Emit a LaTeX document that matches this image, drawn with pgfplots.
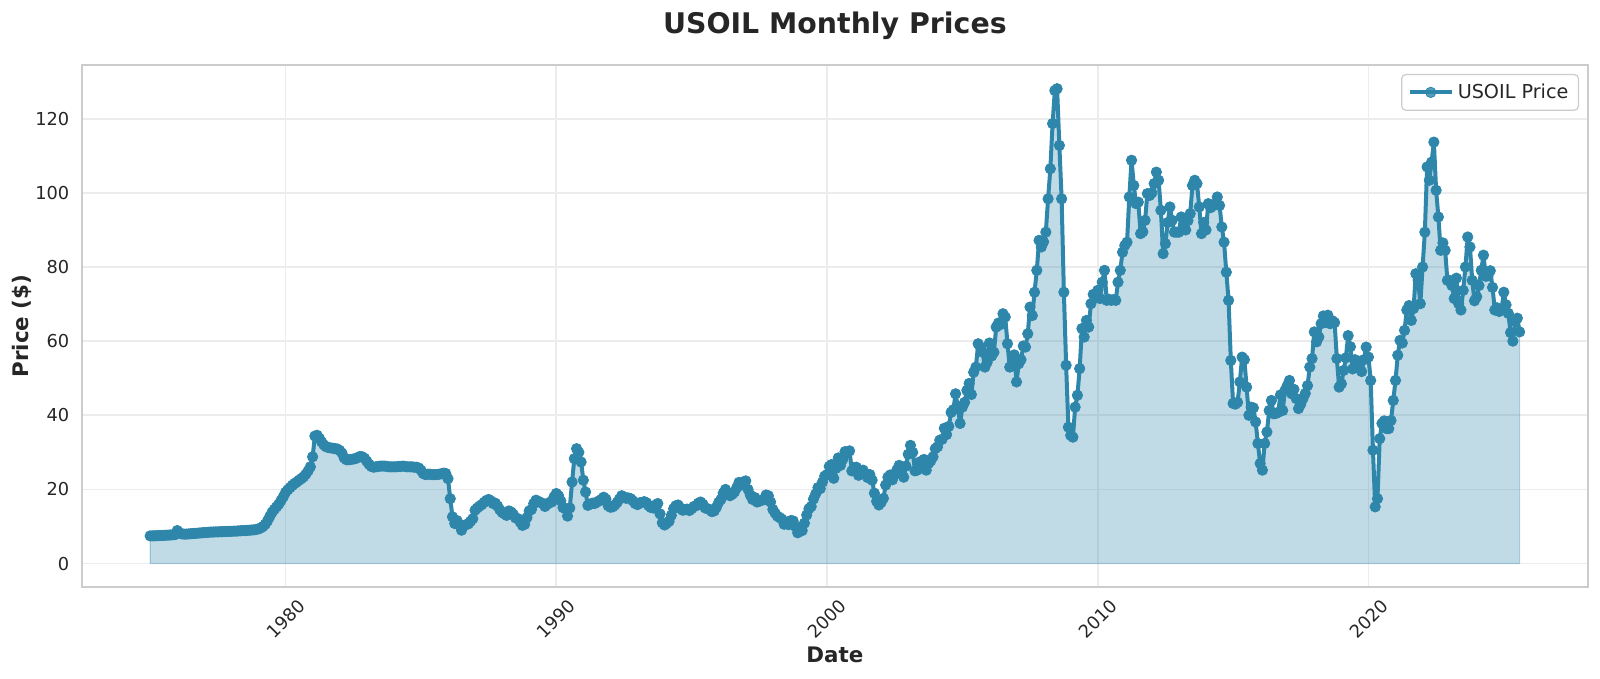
\documentclass[border=0pt]{standalone}
\usepackage{fontspec}
\setmainfont{DejaVu Sans}
\usepackage{pgfplots}
\usepackage{pgfplotstable}
\pgfplotsset{compat=1.18}
\definecolor{oil}{HTML}{2E86AB}
\definecolor{txt}{HTML}{262626}
\definecolor{spine}{HTML}{CCCCCC}
\definecolor{gridc}{HTML}{ECECEC}

% Monthly prices, Jan 1975 - Aug 2025 (one value per month)
\pgfplotstableread[row sep=\\]{
p\\
7.46\\ 7.48\\ 7.50\\ 7.52\\ 7.55\\ 7.58\\ 7.62\\ 7.65\\ 7.68\\ 7.72\\ 7.76\\ 7.80\\
8.9\\ 8.3\\ 8.0\\ 7.95\\ 7.95\\ 8.0\\ 8.05\\ 8.1\\ 8.15\\ 8.2\\ 8.25\\ 8.3\\
8.35\\ 8.4\\ 8.45\\ 8.5\\ 8.5\\ 8.55\\ 8.55\\ 8.6\\ 8.6\\ 8.65\\ 8.65\\ 8.7\\
8.7\\ 8.75\\ 8.75\\ 8.8\\ 8.85\\ 8.9\\ 8.9\\ 8.95\\ 9.0\\ 9.05\\ 9.1\\ 9.2\\
9.35\\ 9.6\\ 10.0\\ 10.6\\ 11.5\\ 12.7\\ 13.8\\ 14.6\\ 15.3\\ 16.0\\ 17.0\\ 18.0\\
19.2\\ 19.9\\ 20.5\\ 21.1\\ 21.6\\ 22.0\\ 22.5\\ 22.9\\ 23.4\\ 24.1\\ 25.0\\ 26.1\\
28.8\\ 34.4\\ 34.6\\ 33.8\\ 32.8\\ 32.0\\ 31.5\\ 31.3\\ 31.2\\ 31.1\\ 31.0\\ 30.9\\
30.5\\ 29.8\\ 28.5\\ 28.0\\ 28.0\\ 28.1\\ 28.2\\ 28.3\\ 28.6\\ 28.9\\ 28.8\\ 28.4\\
27.6\\ 26.8\\ 26.2\\ 26.0\\ 26.1\\ 26.2\\ 26.3\\ 26.3\\ 26.3\\ 26.2\\ 26.1\\ 26.1\\
26.1\\ 26.1\\ 26.2\\ 26.2\\ 26.3\\ 26.2\\ 26.1\\ 26.1\\ 26.1\\ 26.0\\ 26.0\\ 25.8\\
25.2\\ 24.3\\ 24.0\\ 24.1\\ 24.1\\ 24.0\\ 24.0\\ 24.0\\ 24.1\\ 24.2\\ 24.4\\ 24.3\\
22.9\\ 17.5\\ 12.6\\ 10.8\\ 11.6\\ 10.6\\ 9.0\\ 10.2\\ 10.5\\ 10.7\\ 11.4\\ 12.1\\
14.4\\ 15.0\\ 15.5\\ 15.9\\ 16.5\\ 17.0\\ 17.3\\ 16.9\\ 16.2\\ 16.3\\ 15.5\\ 14.5\\
13.8\\ 13.4\\ 13.0\\ 14.2\\ 13.9\\ 13.2\\ 12.3\\ 12.1\\ 11.2\\ 10.3\\ 10.6\\ 12.4\\
14.2\\ 14.6\\ 16.2\\ 17.1\\ 16.8\\ 16.5\\ 16.2\\ 15.4\\ 16.0\\ 16.5\\ 16.6\\ 18.0\\
18.9\\ 18.3\\ 16.9\\ 15.1\\ 14.8\\ 12.8\\ 15.0\\ 22.0\\ 28.3\\ 31.0\\ 30.0\\ 27.4\\
22.5\\ 19.3\\ 15.7\\ 16.0\\ 16.3\\ 16.2\\ 16.6\\ 16.9\\ 17.3\\ 17.9\\ 17.4\\ 15.6\\
15.2\\ 15.3\\ 15.8\\ 16.5\\ 17.4\\ 18.3\\ 18.0\\ 17.6\\ 17.7\\ 17.5\\ 16.9\\ 16.2\\
15.9\\ 16.4\\ 16.5\\ 16.7\\ 16.4\\ 15.6\\ 15.1\\ 15.0\\ 15.8\\ 16.2\\ 13.4\\ 11.0\\
10.4\\ 10.9\\ 11.4\\ 13.0\\ 14.8\\ 15.6\\ 15.8\\ 15.0\\ 14.4\\ 14.5\\ 14.7\\ 14.3\\
14.8\\ 15.4\\ 15.6\\ 16.3\\ 16.6\\ 16.0\\ 15.0\\ 14.8\\ 14.6\\ 14.0\\ 14.2\\ 15.2\\
16.5\\ 17.3\\ 19.0\\ 20.0\\ 19.0\\ 18.3\\ 18.7\\ 19.3\\ 20.5\\ 21.9\\ 21.2\\ 22.0\\
22.3\\ 20.0\\ 18.5\\ 17.3\\ 17.8\\ 16.6\\ 16.8\\ 17.1\\ 17.2\\ 18.5\\ 18.3\\ 16.6\\
14.6\\ 13.6\\ 12.8\\ 12.4\\ 12.0\\ 10.6\\ 10.8\\ 10.5\\ 11.6\\ 11.5\\ 10.0\\ 8.3\\
9.3\\ 8.9\\ 10.9\\ 13.1\\ 14.8\\ 15.4\\ 17.4\\ 18.8\\ 20.5\\ 20.2\\ 22.0\\ 23.6\\
24.0\\ 26.2\\ 26.7\\ 23.0\\ 25.7\\ 28.5\\ 26.5\\ 28.1\\ 30.2\\ 29.8\\ 30.4\\ 25.0\\
25.9\\ 26.0\\ 23.8\\ 24.2\\ 25.2\\ 24.3\\ 23.2\\ 24.0\\ 22.5\\ 19.0\\ 16.8\\ 15.8\\
16.5\\ 17.6\\ 21.2\\ 23.3\\ 23.9\\ 22.6\\ 24.0\\ 25.3\\ 26.5\\ 25.8\\ 23.3\\ 26.3\\
29.5\\ 31.9\\ 30.0\\ 25.0\\ 25.2\\ 27.4\\ 27.5\\ 28.1\\ 25.2\\ 27.0\\ 27.7\\ 28.8\\
31.0\\ 31.5\\ 33.3\\ 33.5\\ 36.5\\ 34.8\\ 37.0\\ 40.8\\ 41.5\\ 45.8\\ 42.3\\ 37.8\\
42.2\\ 43.5\\ 46.7\\ 48.6\\ 45.6\\ 51.6\\ 53.0\\ 59.3\\ 58.4\\ 57.0\\ 53.0\\ 54.3\\
59.5\\ 56.0\\ 57.0\\ 63.8\\ 64.9\\ 64.5\\ 67.4\\ 66.5\\ 59.3\\ 53.0\\ 53.3\\ 56.3\\
49.0\\ 53.9\\ 55.0\\ 58.7\\ 58.4\\ 62.0\\ 69.2\\ 66.9\\ 73.2\\ 79.1\\ 87.2\\ 85.4\\
86.8\\ 89.4\\ 98.4\\ 106.5\\ 118.7\\ 127.6\\ 128.1\\ 112.8\\ 98.4\\ 73.2\\ 53.5\\ 36.8\\
34.6\\ 34.1\\ 42.2\\ 45.4\\ 52.6\\ 63.4\\ 61.1\\ 65.6\\ 63.8\\ 70.1\\ 72.6\\ 71.9\\
73.7\\ 71.5\\ 75.9\\ 79.1\\ 71.0\\ 71.3\\ 71.0\\ 71.2\\ 71.0\\ 75.9\\ 79.1\\ 84.0\\
85.8\\ 86.7\\ 98.9\\ 108.8\\ 102.0\\ 97.1\\ 97.5\\ 89.0\\ 89.5\\ 92.6\\ 99.8\\ 99.3\\
100.0\\ 102.5\\ 105.6\\ 103.4\\ 95.3\\ 83.6\\ 86.3\\ 92.0\\ 96.2\\ 92.6\\ 89.4\\ 89.4\\
89.4\\ 93.5\\ 91.0\\ 90.0\\ 92.5\\ 94.4\\ 102.0\\ 103.4\\ 102.5\\ 96.2\\ 89.0\\ 92.0\\
90.0\\ 97.1\\ 96.0\\ 96.5\\ 97.0\\ 98.9\\ 96.6\\ 90.8\\ 86.7\\ 78.6\\ 71.0\\ 54.8\\
43.2\\ 43.0\\ 43.5\\ 49.0\\ 55.7\\ 55.0\\ 47.6\\ 40.0\\ 42.2\\ 42.0\\ 38.2\\ 32.4\\
27.0\\ 25.2\\ 32.4\\ 35.5\\ 41.3\\ 44.0\\ 40.4\\ 40.5\\ 40.8\\ 45.5\\ 41.3\\ 46.7\\
48.0\\ 49.4\\ 45.8\\ 47.0\\ 44.5\\ 41.8\\ 43.0\\ 44.5\\ 45.9\\ 48.0\\ 53.0\\ 55.3\\
62.5\\ 59.8\\ 61.1\\ 64.7\\ 66.8\\ 65.0\\ 67.0\\ 64.7\\ 65.5\\ 65.0\\ 55.3\\ 47.6\\
48.5\\ 52.1\\ 55.5\\ 61.5\\ 58.5\\ 52.5\\ 55.0\\ 53.0\\ 54.5\\ 51.8\\ 55.0\\ 58.4\\
55.7\\ 49.4\\ 30.6\\ 15.3\\ 17.5\\ 33.7\\ 37.8\\ 38.5\\ 36.4\\ 36.4\\ 38.6\\ 44.0\\
49.4\\ 56.2\\ 60.2\\ 59.5\\ 62.9\\ 68.4\\ 69.6\\ 65.6\\ 68.8\\ 78.2\\ 76.5\\ 70.1\\
80.0\\ 89.4\\ 107.0\\ 103.4\\ 108.3\\ 113.7\\ 100.7\\ 93.5\\ 84.5\\ 86.5\\ 84.5\\ 76.4\\
76.4\\ 75.0\\ 71.5\\ 77.0\\ 70.1\\ 68.4\\ 73.7\\ 80.0\\ 88.1\\ 85.4\\ 76.4\\ 70.9\\
72.0\\ 75.0\\ 79.1\\ 83.2\\ 77.5\\ 77.6\\ 79.0\\ 74.5\\ 68.4\\ 69.0\\ 68.0\\ 68.5\\
73.2\\ 69.8\\ 67.5\\ 62.3\\ 60.0\\ 65.3\\ 66.2\\ 62.5\\
}\oildata

\begin{document}
\begin{tikzpicture}
\useasboundingbox (-40.85pt,-45.85pt) rectangle (759.15pt,293.65pt);
\begin{axis}[
  at={(0pt,0pt)}, anchor=south west,
  scale only axis, width=753.15pt, height=261.15pt,
  xmin=1972.47, xmax=2028.11, ymin=-6.4, ymax=134.5,
  xtick={1980,1990,2000,2010,2020},
  xticklabels={1980,1990,2000,2010,2020},
  ytick={0,20,40,60,80,100,120},
  yticklabels={0,20,40,60,80,100,120},
  major tick length=0pt,
  grid=major,
  major grid style={draw=gridc, line width=0.8pt},
  axis line style={draw=spine, line width=1.1pt},
  xticklabel style={font=\fontsize{8.9}{10}\selectfont, text=txt, yshift=-16pt, rotate=45, anchor=center, inner sep=0pt},
  yticklabel style={font=\fontsize{8.9}{10}\selectfont, text=txt, anchor=east, inner sep=0pt, xshift=-6pt},
  title={USOIL Monthly Prices},
  every axis title/.style={at={(0.5,1)}, anchor=base, yshift=15.85pt, font=\bfseries\fontsize{14.2}{17}\selectfont, text=txt},
  xlabel={Date},
  every axis x label/.style={at={(0.5,0)}, anchor=base, yshift=-37.85pt, font=\bfseries\fontsize{10.7}{13}\selectfont, text=txt},
  ylabel={Price (\$)},
  every axis y label/.style={at={(0,0.5)}, xshift=-26.35pt, rotate=90, anchor=base, font=\bfseries\fontsize{10.7}{13}\selectfont, text=txt},
  legend image code/.code={\draw[mark repeat=2,mark phase=2,#1] plot coordinates {(0pt,0pt) (10.5pt,0pt) (21pt,0pt)};},
  legend style={at={(1,1)}, anchor=north east, xshift=-4.5pt, yshift=-4.5pt,
    draw=spine, line width=0.6pt, rounded corners=2pt, fill=white, fill opacity=0.8, text opacity=1,
    font=\fontsize{9.6}{11.5}\selectfont, text=txt, inner xsep=3pt, inner ysep=2.5pt},
]
\addplot[draw=oil, draw opacity=0.3, line width=0.6pt, fill=oil, fill opacity=0.3, forget plot]
  table[x expr={1975+\coordindex/12}, y=p] {\oildata} \closedcycle;
\addplot[color=oil, line width=2pt, line join=round, mark=*, mark size=2.6pt,
  mark options={solid, fill=oil, draw=oil, line width=0.4pt}]
  table[x expr={1975+\coordindex/12}, y=p] {\oildata};
\addlegendentry{USOIL Price}
\end{axis}
\end{tikzpicture}
\end{document}
